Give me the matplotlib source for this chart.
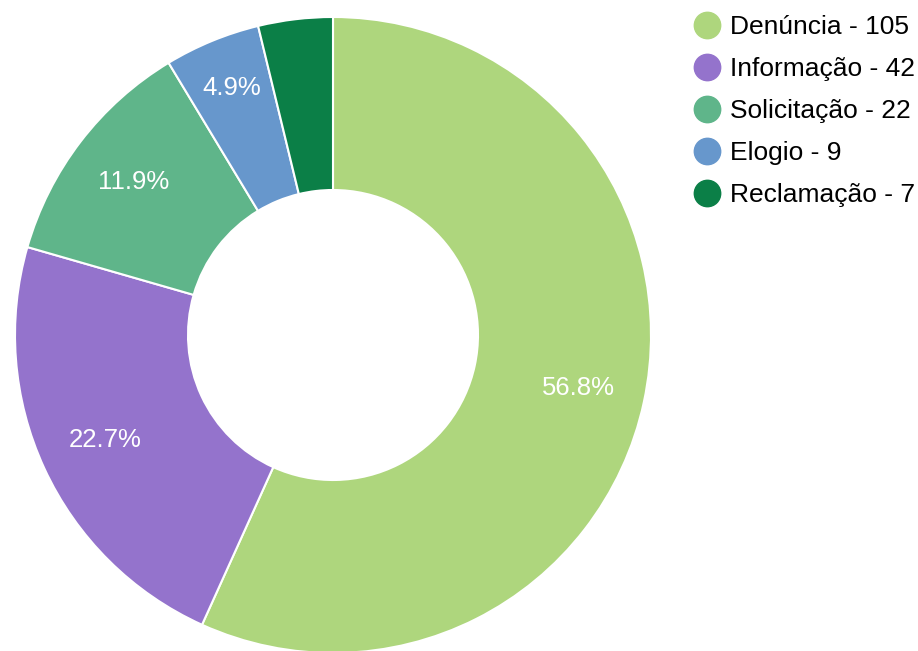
import numpy as np
import matplotlib
matplotlib.use("Agg")
from matplotlib import pyplot as plt
from matplotlib.lines import Line2D

plt.rcParams["font.family"] = ["Liberation Sans", "DejaVu Sans"]

categories = ["Denúncia", "Informação", "Solicitação", "Elogio", "Reclamação"]
values = [105, 42, 22, 9, 7]
colors = ["#aed67d", "#9473cc", "#5fb58a", "#6797cc", "#0b7f47"]

W, H = 918, 651
fig = plt.figure(figsize=(W / 100, H / 100), dpi=100)

# donut: center ~(333, 335) px, outer radius ~318 px
cx, cy, r = 333, 335, 318
ax = fig.add_axes([(cx - r) / W, (H - cy - r) / H, 2 * r / W, 2 * r / H])

hole = 145 / 318
wedges, _ = ax.pie(values, colors=colors, startangle=90, counterclock=False,
                   radius=1, wedgeprops=dict(width=1 - hole, edgecolor="white", linewidth=1.5))
ax.set_xlim(-1, 1)
ax.set_ylim(-1, 1)
ax.set_aspect("equal")
ax.axis("off")

total = sum(values)
for w, v in zip(wedges, values):
    frac = v / total
    if frac < 0.04:
        continue  # too thin for a label
    theta = np.deg2rad((w.theta1 + w.theta2) / 2)
    rr = 0.79 if frac > 0.08 else 0.84
    ax.text(rr * np.cos(theta), rr * np.sin(theta), f"{frac * 100:.1f}%",
            ha="center", va="center", color="white", fontsize=18.5)

handles = [Line2D([], [], marker="o", linestyle="none", markersize=19,
                  markerfacecolor=c, markeredgecolor=c) for c in colors]
labels = [f"{c} - {v}" for c, v in zip(categories, values)]
fig.legend(handles, labels, loc="upper left", bbox_to_anchor=(694 / W, 1 - 15 / H),
           frameon=False, fontsize=19, handletextpad=0.35, labelspacing=0.68,
           handlelength=1.0, borderaxespad=0, borderpad=0)

fig.savefig("out.png", dpi=100)
